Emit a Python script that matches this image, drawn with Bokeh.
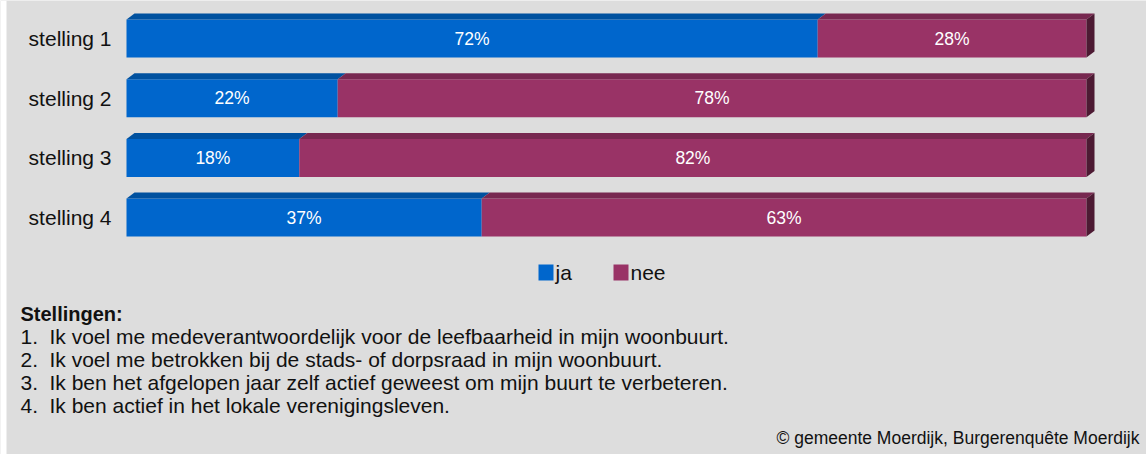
from bokeh.plotting import figure
from bokeh.models import Range1d
from bokeh.core.properties import value
from bokeh.embed import file_html
from bokeh.resources import INLINE

# ---- data ----
categories = ["stelling 1", "stelling 2", "stelling 3", "stelling 4"]
ja = [72, 22, 18, 37]
nee = [28, 78, 82, 63]
series_names = ["ja", "nee"]
title_text = "Stellingen:"
statement_nums = ["1.", "2.", "3.", "4."]
statements = [
    "Ik voel me medeverantwoordelijk voor de leefbaarheid in mijn woonbuurt.",
    "Ik voel me betrokken bij de stads- of dorpsraad in mijn woonbuurt.",
    "Ik ben het afgelopen jaar zelf actief geweest om mijn buurt te verbeteren.",
    "Ik ben actief in het lokale verenigingsleven.",
]
source_text = "\u00a9 gemeente Moerdijk, Burgerenqu\u00eate Moerdijk"

# ---- styling / layout ----
W, H = 1146, 454
BG = "#dddddd"
FONT = value("Liberation Sans")
TXT = "#111111"
BLUE, BLUE_TOP = "#0066cc", "#00519f"
MAR, MAR_TOP, MAR_SIDE = "#993366", "#772850", "#4d1a33"

X0, SX = 126.0, 9.6        # canvas px of 0%, px per %
Y0, SY = 38.0, 59.7        # canvas px of first bar centre, px per row


def xd(ax):  # canvas x -> data
    return (ax - X0) / SX


def yd(ay):  # canvas y -> data
    return (ay - Y0) / SY


p = figure(width=W, height=H, output_backend="svg", toolbar_location=None,
           x_range=Range1d(xd(0), xd(W)), y_range=Range1d(yd(H), yd(0)),
           min_border=0, background_fill_color=BG, border_fill_color=BG,
           outline_line_color=None)
p.axis.visible = False
p.grid.visible = False

# white strip at the left edge as in the source image
p.quad(left=[xd(0)], right=[xd(6)], top=[yd(0)], bottom=[yd(H)],
       fill_color="white", line_color=None)

bar_h = 38.0 / SY
dx = 8.0 / SX
dy = 6.0 / SY

rows = list(range(len(categories)))

# front faces
p.hbar(y=rows, left=[0] * len(ja), right=ja, height=bar_h, fill_color=BLUE, line_color=None)
p.hbar(y=rows, left=ja, right=[a + b for a, b in zip(ja, nee)], height=bar_h,
       fill_color=MAR, line_color=None)

# 3D top faces and right side
top_xs, top_ys, top_cols = [], [], []
side_xs, side_ys = [], []
for i in rows:
    t = i - bar_h / 2
    b = i + bar_h / 2
    segs = [(0, ja[i], BLUE_TOP), (ja[i], ja[i] + nee[i], MAR_TOP)]
    for l, r, c in segs:
        top_xs.append([l, r, r + dx, l + dx])
        top_ys.append([t, t, t - dy, t - dy])
        top_cols.append(c)
    r = ja[i] + nee[i]
    side_xs.append([r, r + dx, r + dx, r])
    side_ys.append([t, t - dy, b - dy, b])
p.patches(top_xs, top_ys, fill_color=top_cols, line_color=None)
p.patches(side_xs, side_ys, fill_color=MAR_SIDE, line_color=None)

# value labels
lab_x, lab_y, lab_t = [], [], []
for i in rows:
    lab_x += [ja[i] / 2, ja[i] + nee[i] / 2]
    lab_y += [i, i]
    lab_t += [f"{ja[i]}%", f"{nee[i]}%"]
p.text(x=lab_x, y=lab_y, text=lab_t, text_color="white", text_font=FONT,
       text_font_size="17.5px", text_align="center", text_baseline="middle")

# category labels
p.text(x=[xd(111)] * len(categories), y=rows, text=categories, text_color=TXT,
       text_font=FONT, text_font_size="21px", text_align="right", text_baseline="middle")

# legend
leg_y = yd(272)
sq_w = 15 / SX
sq_h = 16 / SY
p.rect(x=[xd(545.5), xd(620.5)], y=[leg_y, leg_y], width=sq_w, height=sq_h,
       fill_color=[BLUE, MAR], line_color=None)
p.text(x=[xd(555), xd(630)], y=[leg_y, leg_y], text=series_names, text_color=TXT,
       text_font=FONT, text_font_size="21px", text_align="left", text_baseline="middle")

# statements
p.text(x=[xd(20)], y=[yd(313)], text=[title_text], text_color=TXT, text_font=FONT,
       text_font_size="20px", text_font_style="bold", text_align="left", text_baseline="middle")
st_y = [yd(v) for v in (336, 359, 382, 405)]
p.text(x=[xd(20)] * 4, y=st_y, text=statement_nums, text_color=TXT, text_font=FONT,
       text_font_size="21px", text_align="left", text_baseline="middle")
p.text(x=[xd(49)] * 4, y=st_y, text=statements, text_color=TXT, text_font=FONT,
       text_font_size="21px", text_align="left", text_baseline="middle")

# source
p.text(x=[xd(1139)], y=[yd(437)], text=[source_text], text_color=TXT, text_font=FONT,
       text_font_size="17.5px", text_align="right", text_baseline="middle")

open("out.html", "w").write(file_html(p, INLINE))
